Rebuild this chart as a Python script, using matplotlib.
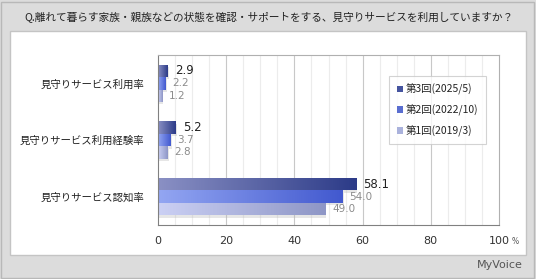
import numpy as np
import matplotlib
matplotlib.use('Agg')
import matplotlib.pyplot as plt
from matplotlib.patches import Rectangle
from matplotlib.colors import LinearSegmentedColormap

plt.rcParams['font.family'] = ['Noto Sans CJK JP', 'DejaVu Sans']

title = 'Q.離れて暮らす家族・親族などの状態を確認・サポートをする、見守りサービスを利用していますか？'
categories = ['見守りサービス利用率', '見守りサービス利用経験率', '見守りサービス認知率']
series = ['第3回(2025/5)', '第2回(2022/10)', '第1回(2019/3)']
values = {
    '第3回(2025/5)': [2.9, 5.2, 58.1],
    '第2回(2022/10)': [2.2, 3.7, 54.0],
    '第1回(2019/3)': [1.2, 2.8, 49.0],
}
# gradient colours (left, right) and legend colour
grads = [('#8a90c4', '#2c3b88'), ('#93a6f2', '#4259cf'), ('#cbd0f4', '#8e96c6')]
legend_cols = ['#45549f', '#5a6ed0', '#aab2dc']
label_cols = ['#222222', '#8c8c8c', '#8c8c8c']
label_sizes = [8.5, 7.5, 7.5]

fig = plt.figure(figsize=(5.36, 2.79), dpi=100)
fig.patch.set_facecolor('#dcdcdc')

# white panel and borders
fig.patches.append(Rectangle((0.002, 0.004), 0.994, 0.99, transform=fig.transFigure,
                             facecolor='none', edgecolor='#b8b8b8', lw=1, zorder=-2))
fig.patches.append(Rectangle((10 / 536, 1 - 255 / 279), 516 / 536, 224 / 279,
                             transform=fig.transFigure, facecolor='white',
                             edgecolor='#c4c4c4', lw=1, zorder=-1))

fig.text(269 / 536, 1 - 18 / 279, title, ha='center', va='center', fontsize=7.7, color='#222222')

ax = fig.add_axes([158 / 536, 54 / 279, 341 / 536, 170 / 279])
ax.set_facecolor('white')

for x in np.arange(5, 100, 5):
    ax.axvline(x, color='#c8c8c8' if x % 20 == 0 else '#ececec', lw=0.8, zorder=0)

h = 0.22
y = np.arange(len(categories))
for i, s in enumerate(series):
    ys = y + (i - 1) * h
    cmap = LinearSegmentedColormap.from_list('g%d' % i, grads[i])
    for yy, v in zip(ys, values[s]):
        # shadow
        ax.add_patch(Rectangle((0, yy - h / 2 + 0.04), v + 0.4, h, facecolor='#b8b8b8',
                               edgecolor='none', alpha=0.35, zorder=1))
        r = Rectangle((0, yy - h / 2), v, h, facecolor='none', edgecolor='none', zorder=2)
        ax.add_patch(r)
        im = ax.imshow(np.linspace(0, 1, 100).reshape(1, -1), cmap=cmap, aspect='auto',
                       extent=(0, v, yy + h / 2, yy - h / 2), zorder=2)
        im.set_clip_path(r)
        ax.annotate('%.1f' % v, (v, yy), xytext=(5, 0), textcoords='offset points',
                    ha='left', va='center', fontsize=label_sizes[i], color=label_cols[i],
                    family='DejaVu Sans', zorder=3)
    ax.bar([0], [0], color=legend_cols[i], label=s)

ax.set_xlim(0, 100)
ax.set_ylim(2.5, -0.5)

ax.set_yticks(y)
ax.set_yticklabels(categories, fontsize=7.5, color='#222222')
ax.tick_params(axis='y', length=0, pad=10)
ax.set_xticks(np.arange(0, 101, 20))
ax.set_xticks(np.arange(0, 101, 5), minor=True)
ax.set_xticklabels(['0', '20', '40', '60', '80', '100'], fontsize=8, color='#333333',
                   family='DejaVu Sans')
ax.tick_params(axis='x', which='both', length=0, pad=8)
fig.text(512 / 536, 1 - 241 / 279, '%', fontsize=5.5, color='#555555', ha='left', va='center',
         family='DejaVu Sans')

for side in ['left', 'bottom']:
    ax.spines[side].set_color('#808080')
for side in ['top', 'right']:
    ax.spines[side].set_color('#b0b0b0')

leg = ax.legend(loc='upper left', bbox_to_anchor=(0.663, 0.905), fontsize=7.5,
                frameon=True, fancybox=False, handlelength=0.6, handleheight=0.6,
                handletextpad=0.3, borderpad=0.7, labelspacing=0.9, labelcolor='#222222')
leg.get_frame().set_edgecolor('#c8c8c8')
leg.get_frame().set_linewidth(0.8)

fig.text(500 / 536, 1 - 265 / 279, 'MyVoice', ha='center', va='center', fontsize=8,
         color='#555555', family='DejaVu Sans')

fig.savefig('out.png', dpi=100)
